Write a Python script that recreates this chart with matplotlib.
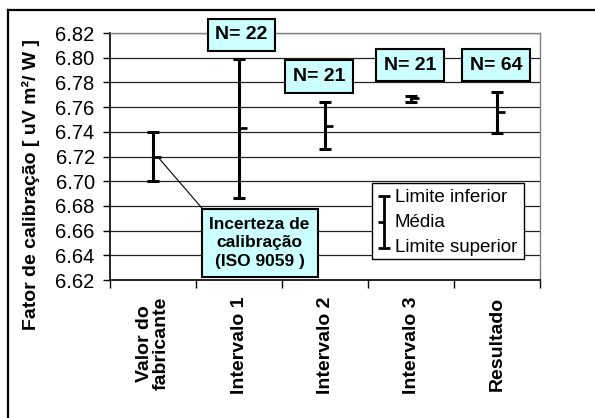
import numpy as np
import matplotlib.pyplot as plt
from matplotlib.lines import Line2D
from matplotlib.patches import Rectangle
from matplotlib.path import Path

plt.rcParams["font.family"] = ["Liberation Sans", "DejaVu Sans"]

categories = ["Valor do\nfabricante", "Intervalo 1", "Intervalo 2", "Intervalo 3", "Resultado"]
lower = [6.700, 6.686, 6.726, 6.764, 6.739]
mean = [6.720, 6.743, 6.745, 6.767, 6.756]
upper = [6.740, 6.799, 6.764, 6.769, 6.772]

n_labels = ["N= 22", "N= 21", "N= 21", "N= 64"]
n_label_pos = [(1.03, 6.8185), (1.93, 6.785), (2.99, 6.794), (3.99, 6.794)]

yticks = [6.62, 6.64, 6.66, 6.68, 6.70, 6.72, 6.74, 6.76, 6.78, 6.80, 6.82]

W, H = 595, 418
fig = plt.figure(figsize=(W / 100, H / 100), dpi=100)
ax = fig.add_axes([110 / W, 1 - 280 / H, 430 / W, 247 / H])

# outer chart frame (only left and top visible in the crop)
fig.add_artist(Line2D([8 / W, 8 / W], [0, 1 - 10 / H], transform=fig.transFigure,
                      color="black", lw=1.6))
fig.add_artist(Line2D([8 / W, 1], [1 - 10 / H, 1 - 10 / H], transform=fig.transFigure,
                      color="black", lw=1.6))

x = np.arange(len(categories))
lo = np.array(lower)
mu = np.array(mean)
hi = np.array(upper)

ax.errorbar(x, mu, yerr=[mu - lo, hi - mu], fmt="none", ecolor="black",
            elinewidth=2.2, capsize=4.5, capthick=2.2, zorder=3)
mean_tick = Path([(0, 0), (1, 0)], [Path.MOVETO, Path.LINETO])
ax.plot(x, mu, linestyle="none", marker=mean_tick, markersize=11,
        markeredgewidth=2.0, color="black", zorder=3)

ax.set_xlim(-0.5, len(categories) - 0.5)
ax.set_ylim(6.62, 6.82)
ax.set_yticks(yticks)
ax.set_yticklabels([f"{v:.2f}" for v in yticks])
ax.grid(axis="y", color="#222222", lw=0.9)
ax.set_axisbelow(True)

ax.set_xticks(x)
ax.set_xticklabels(categories, rotation=90, fontweight="bold", fontsize=14,
                   va="top", multialignment="center", linespacing=1.0)
ax.set_xticks(np.arange(len(categories) + 1) - 0.5, minor=True)
ax.tick_params(axis="x", which="major", length=0, pad=12)
ax.tick_params(axis="x", which="minor", length=6, width=1, direction="out")
ax.tick_params(axis="y", length=5, width=1, direction="out", labelsize=14.5, pad=6)

for side in ["top", "right"]:
    ax.spines[side].set_color("#808080")
    ax.spines[side].set_linewidth(1)
for side in ["left", "bottom"]:
    ax.spines[side].set_color("black")
    ax.spines[side].set_linewidth(1.2)

box = dict(boxstyle="square,pad=0.4", facecolor="#ccffff", edgecolor="black", lw=1.5)
for label, (px, py) in zip(n_labels, n_label_pos):
    ax.text(px, py, label, ha="center", va="center", fontsize=14,
            fontweight="bold", bbox=box, clip_on=False, zorder=5)

ax.annotate("Incerteza de\ncalibração\n(ISO 9059 )", xy=(0.07, mean[0] - 0.0015),
            xytext=(1.24, 6.65), ha="center", va="center", fontsize=12.5,
            fontweight="bold", linespacing=1.3,
            bbox=dict(boxstyle="square,pad=0.45", facecolor="#ccffff",
                      edgecolor="black", lw=1.5),
            arrowprops=dict(arrowstyle="-", color="black", lw=0.8,
                            relpos=(0, 1), shrinkA=0, shrinkB=0),
            zorder=5)

# legend drawn by hand: one I-bar for the three labels
lx0, lx1 = (372 - 110) / 430, (524 - 110) / 430
ly0, ly1 = (280 - 259) / 247, (280 - 183) / 247
ax.add_patch(Rectangle((lx0, ly0), lx1 - lx0, ly1 - ly0, transform=ax.transAxes,
                       facecolor="white", edgecolor="black", lw=1, zorder=6))
bx = (384 - 110) / 430
cap = 6 / 430
ytop, ymid, ybot = (280 - 196) / 247, (280 - 222) / 247, (280 - 248) / 247
for xs, ys in [([bx, bx], [ybot, ytop]),
               ([bx - cap, bx + cap], [ytop, ytop]),
               ([bx - cap, bx + cap], [ybot, ybot]),
               ([bx - cap, bx], [ymid, ymid])]:
    ax.plot(xs, ys, color="black", lw=2, transform=ax.transAxes, zorder=7,
            solid_capstyle="butt")
tx = (395 - 110) / 430
for ty, txt in zip([(280 - 197) / 247, ymid, (280 - 247) / 247],
                   ["Limite inferior", "Média", "Limite superior"]):
    ax.text(tx, ty, txt, transform=ax.transAxes, ha="left", va="center",
            fontsize=13.5, zorder=7)

fig.text(31 / W, 1 - 185 / H, "Fator de calibração [ uV m²/ W ]", rotation=90,
         ha="center", va="center", fontsize=14, fontweight="bold")

fig.savefig("out.png", dpi=100)
